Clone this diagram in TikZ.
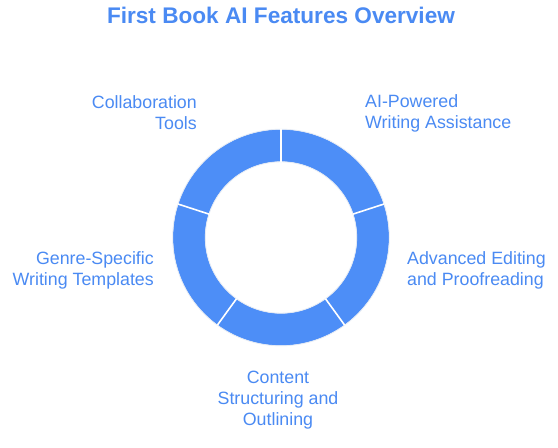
\documentclass[tikz,border=0pt]{standalone}
\usepackage{fontspec}
\setmainfont{Liberation Sans}
\usetikzlibrary{calc}
\definecolor{donut}{RGB}{77,142,247}
\definecolor{txt}{RGB}{74,138,243}
\definecolor{rim}{RGB}{228,234,244}
\begin{document}
\begin{tikzpicture}[x=1pt,y=1pt,
  lbl/.style={text=txt,font=\fontsize{17.8}{20.8}\selectfont,inner sep=0pt},
  ttl/.style={text=txt,font=\fontsize{22.6}{26}\selectfont\bfseries,inner sep=0pt},
  divider/.style={draw=white,line width=1.6pt}]
\useasboundingbox (0,0) rectangle (558,448);
\fill[white] (0,0) rectangle (558,448);
\coordinate (c) at (281,210.5);
\node[ttl] (title) at (281,433) {First Book AI Features Overview};
% donut
\fill[donut,even odd rule] (c) circle (108) (c) circle (76);
\draw[rim,line width=0.8pt] (c) circle (108.3);
\draw[rim,line width=0.8pt] (c) circle (75.7);
\foreach \a in {90,18,-54,-126,162}{
  \draw[divider] ($(c)+(\a:75.5)$) -- ($(c)+(\a:108.5)$);
}
% labels
\node[lbl,anchor=east,align=right] (collab) at (197,335) {Collaboration\\Tools};
\node[lbl,anchor=west,align=left] (aiw) at (365,335) {AI-Powered\\Writing Assistance};
\node[lbl,anchor=west,align=left] (adv) at (407,177.5) {Advanced Editing\\and Proofreading};
\node[lbl,anchor=east,align=right] (genre) at (154,177.5) {Genre-Specific\\Writing Templates};
\node[lbl,align=center] (content) at (278,48) {Content\\Structuring and\\Outlining};
\end{tikzpicture}
\end{document}
